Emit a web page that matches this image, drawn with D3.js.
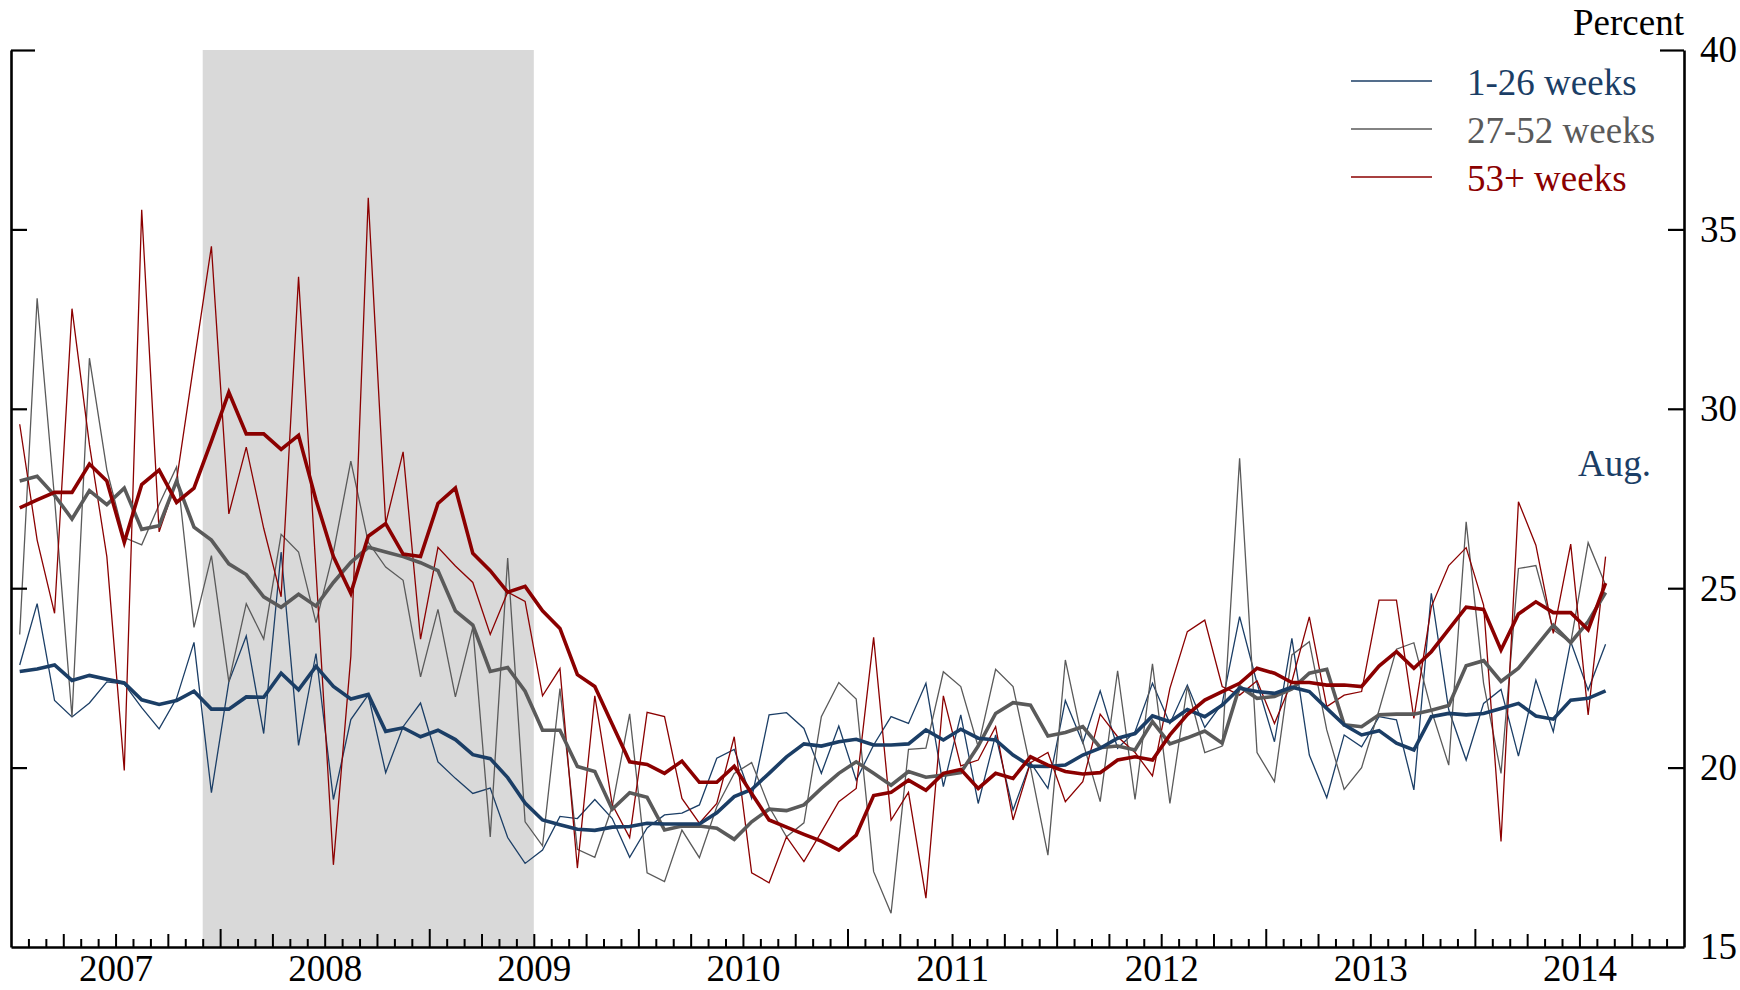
<!DOCTYPE html>
<html><head><meta charset="utf-8">
<script src="https://cdn.jsdelivr.net/npm/d3@7/dist/d3.min.js"></script>
<style>
html,body{margin:0;padding:0;background:#fff;}
svg{display:block;}
svg text{font-family:"Liberation Serif","Times New Roman",Times,serif !important;}
</style></head><body>
<svg id="chart" width="1740" height="990"></svg>
<script>
(function () {
// ---- data ----
const firstMonth = "2007-01";          // first observation
const axisStartYear = 2007, axisEndYear = 2015;
const yearLabels = ["2007","2008","2009","2010","2011","2012","2013","2014"];
const yTicks = [15, 20, 25, 30, 35, 40];
const recessionStart = "2007-12", recessionEnd = "2009-06";
const seriesNames = ["1-26 weeks", "27-52 weeks", "53+ weeks"];
const lastLabel = "Aug.";

const short_monthly = [22.86,24.57,21.87,21.41,21.8,22.39,22.33,21.67,21.08,21.93,23.49,19.3,22.39,23.67,20.95,26.01,20.62,23.18,19.11,
 21.34,22.03,19.86,21.14,21.8,20.16,19.7,19.28,19.43,18.05,17.33,17.7,18.64,18.58,19.11,18.58,17.5,18.32,
 18.68,18.73,18.96,20.26,20.51,19.14,21.47,21.53,21.09,19.84,21.16,19.65,20.63,21.42,21.23,22.35,19.47,21.47,19.0,
 20.91,18.82,20.14,19.42,21.87,20.69,22.14,20.54,21.0,22.35,21.23,22.3,21.12,21.79,24.21,22.35,20.72,23.6,
 20.35,19.16,20.91,20.58,21.42,21.33,19.38,24.86,21.61,20.21,21.79,22.18,20.32,22.44,21.0,23.51,22.16,23.44];
const short_avg = [22.68,22.75,22.86,22.43,22.57,22.46,22.36,21.89,21.76,21.87,22.13,21.63,21.63,21.97,21.96,22.63,22.17,22.82,22.26,
 21.91,22.04,21.01,21.11,20.86,21.04,20.78,20.36,20.25,19.72,19.01,18.54,18.41,18.28,18.25,18.34,18.36,18.45,
 18.43,18.43,18.43,18.74,19.19,19.39,19.84,20.3,20.66,20.6,20.72,20.79,20.63,20.63,20.66,21.05,20.77,21.07,20.82,
 20.77,20.35,20.04,20.03,20.07,20.35,20.54,20.82,20.95,21.44,21.28,21.62,21.42,21.74,22.21,22.12,22.07,22.24,
 22.12,21.65,21.19,20.91,21.03,20.68,20.49,21.42,21.51,21.47,21.51,21.65,21.79,21.44,21.35,21.88,21.93,22.14];
const mid_monthly = [23.71,33.08,27.5,21.41,31.41,28.3,26.41,26.21,27.33,28.38,23.91,25.91,22.39,24.57,23.58,26.5,26.01,24.04,26.0,
 28.54,26.28,25.59,25.22,22.53,24.41,21.97,23.91,18.07,25.84,18.49,17.82,22.2,17.72,17.5,18.91,21.5,17.07,
 16.82,18.26,17.49,18.91,19.84,20.14,18.91,18.07,18.46,21.42,22.37,21.91,17.1,15.94,20.51,20.54,22.67,22.26,20.58,
 22.74,22.26,20.0,17.56,23.0,20.72,19.05,22.7,19.11,22.89,19.0,22.26,20.42,20.6,28.62,20.42,19.61,23.14,
 23.51,21.05,19.39,20.0,21.6,23.3,23.48,21.6,20.07,26.85,22.35,19.84,25.55,25.63,23.84,23.48,26.27,25.09];
const mid_avg = [27.99,28.12,27.59,26.93,27.72,27.33,27.79,26.64,26.74,27.99,26.7,26.34,25.68,25.38,24.76,24.47,24.83,24.5,25.16,
 25.72,26.14,26.01,25.88,25.71,25.49,24.37,23.97,22.68,22.79,22.13,21.04,21.04,20.03,19.89,18.84,19.3,19.17,
 18.26,18.37,18.37,18.31,18.0,18.49,18.84,18.8,18.96,19.42,19.84,20.16,19.84,19.51,19.89,19.73,19.79,19.86,20.6,
 21.51,21.81,21.74,20.88,20.98,21.14,20.56,20.6,20.49,21.28,20.66,20.83,21.02,20.68,22.26,21.93,21.98,22.19,
 22.63,22.74,21.19,21.14,21.47,21.49,21.49,21.6,21.73,22.84,22.98,22.4,22.77,23.37,23.97,23.48,24.07,24.88];
const long_monthly = [29.57,26.34,24.3,32.79,29.0,25.88,19.92,35.55,26.57,28.0,31.28,34.53,27.07,28.93,26.67,24.76,33.68,25.5,17.29,
 23.1,35.88,26.8,28.8,23.58,26.14,25.62,25.16,23.71,24.89,24.63,22.0,22.76,17.2,22.0,18.97,18.05,21.54,
 21.42,19.14,18.45,19.0,20.86,17.07,16.79,18.07,17.38,18.21,19.05,19.42,23.63,18.54,19.31,16.36,22.0,20.05,20.21,
 21.14,18.54,20.14,20.42,19.05,19.61,21.49,20.86,20.42,19.77,22.21,23.79,24.11,22.26,22.02,22.42,21.23,22.4,
 24.2,21.7,22.02,22.12,24.67,24.67,21.37,24.48,25.63,26.13,24.53,17.94,27.41,26.2,23.74,26.23,21.47,25.88];
const long_avg = [27.24,27.46,27.67,27.67,28.46,27.99,26.28,27.89,28.29,27.39,27.79,29.1,30.46,29.3,29.3,28.87,29.26,27.46,25.88,
 24.86,26.45,26.8,25.95,25.88,27.36,27.79,25.97,25.49,24.89,25.05,24.37,23.88,22.59,22.26,21.21,20.16,20.09,
 19.84,20.18,19.59,19.59,20.04,19.28,18.54,18.34,18.14,17.95,17.7,18.12,19.22,19.31,19.65,19.37,19.84,19.95,19.42,
 19.84,19.7,20.3,20.07,19.89,19.82,19.86,20.21,20.3,20.21,20.91,21.48,21.88,22.12,22.35,22.77,22.63,22.37,
 22.37,22.3,22.3,22.26,22.83,23.23,22.77,23.23,23.85,24.47,24.41,23.28,24.28,24.62,24.32,24.32,23.84,25.14];

// ---- layout ----
const colors = ["#1b3e66", "#5a5a5a", "#8b0000"];
const mLeft = 11, mRight = 1684, mTop = 50, mBottom = 947;
const fs = 37;
const svg = d3.select("#chart");

const monthIndex = s => { const [yy, mm] = s.split("-").map(Number); return (yy - axisStartYear) * 12 + (mm - 1); };
const nMonths = (axisEndYear - axisStartYear) * 12;
const x = d3.scaleLinear().domain([0, nMonths]).range([mLeft, mRight]);
const y = d3.scaleLinear().domain([15, 40]).range([mBottom, mTop]);
const off = monthIndex(firstMonth);

// recession shading
svg.append("rect")
  .attr("x", x(monthIndex(recessionStart)))
  .attr("width", x(monthIndex(recessionEnd) + 1) - x(monthIndex(recessionStart)))
  .attr("y", y(40)).attr("height", y(15) - y(40))
  .attr("fill", "#d9d9d9");

// lines
const line = d3.line().x((d, i) => x(off + i + 0.5)).y(d => y(d));
const thin = [short_monthly, mid_monthly, long_monthly];
const thick = [mid_avg, short_avg, long_avg];
const thickColors = [colors[1], colors[0], colors[2]];
thin.forEach((s, k) => svg.append("path").datum(s).attr("d", line)
  .attr("fill", "none").attr("stroke", colors[k]).attr("stroke-width", 1.3).attr("stroke-linejoin", "miter"));
thick.forEach((s, k) => svg.append("path").datum(s).attr("d", line)
  .attr("fill", "none").attr("stroke", thickColors[k]).attr("stroke-width", 3.6).attr("stroke-linejoin", "miter"));

// x axis (monthly ticks)
const monthTicks = d3.range(1, nMonths);
const xAxis = svg.append("g").attr("transform", `translate(0,${mBottom})`)
  .call(d3.axisBottom(x).tickValues(monthTicks).tickSizeOuter(0).tickSizeInner(0).tickFormat(""));
xAxis.select(".domain").attr("stroke", "#000").attr("stroke-width", 2.6);
xAxis.selectAll(".tick line")
  .attr("y2", d => d % 12 === 0 ? -18 : (d % 3 === 0 ? -13 : -8))
  .attr("stroke", "#000").attr("stroke-width", 2);

// year labels at mid-year
const yearAxis = svg.append("g").attr("transform", `translate(0,${mBottom})`)
  .call(d3.axisBottom(x).tickValues(yearLabels.map((d, i) => i * 12 + 6)).tickSize(0).tickPadding(8)
    .tickFormat((d, i) => yearLabels[i]));
yearAxis.select(".domain").remove();
yearAxis.selectAll("text").attr("font-size", fs).attr("fill", "#000");

// left axis
const lAxis = svg.append("g").attr("transform", `translate(${mLeft},0)`)
  .call(d3.axisLeft(y).tickValues(yTicks).tickSizeOuter(0).tickSizeInner(-16).tickFormat(""));
lAxis.select(".domain").attr("stroke", "#000").attr("stroke-width", 2.6);
lAxis.selectAll(".tick line").attr("stroke", "#000").attr("stroke-width", 2.2)
  .attr("x2", d => d === 40 ? 24 : (d === 15 ? 0 : 16));

// right axis
const rAxis = svg.append("g").attr("transform", `translate(${mRight},0)`)
  .call(d3.axisRight(y).tickValues(yTicks).tickSizeOuter(0).tickSizeInner(-16).tickPadding(16));
rAxis.select(".domain").attr("stroke", "#000").attr("stroke-width", 2.6);
rAxis.selectAll(".tick line").attr("stroke", "#000").attr("stroke-width", 2.2)
  .attr("x2", d => d === 40 ? -24 : (d === 15 ? 0 : -16));
rAxis.selectAll("text").attr("font-size", fs).attr("fill", "#000");

// unit label
svg.append("text").attr("x", mRight).attr("y", 35).attr("text-anchor", "end")
  .attr("font-size", fs).attr("fill", "#000").text("Percent");

// legend
seriesNames.forEach((name, k) => {
  const ly = 81 + k * 48;
  svg.append("line").attr("x1", 1351).attr("x2", 1432).attr("y1", ly).attr("y2", ly)
    .attr("stroke", colors[k]).attr("stroke-width", 1.3);
  svg.append("text").attr("x", 1467).attr("y", ly + 14).attr("font-size", fs)
    .attr("fill", colors[k]).text(name);
});

// last-observation label
svg.append("text").attr("x", 1578).attr("y", 476).attr("font-size", fs)
  .attr("fill", colors[0]).text(lastLabel);
})();
</script>
</body></html>
